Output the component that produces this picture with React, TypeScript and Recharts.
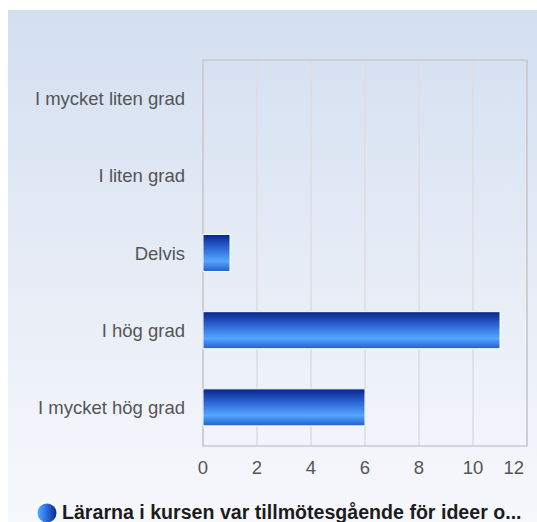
import React from "react";
import {
  BarChart,
  Bar,
  XAxis,
  YAxis,
  CartesianGrid,
  ReferenceArea,
  Legend,
} from "recharts";

const categories = [
  "I mycket liten grad",
  "I liten grad",
  "Delvis",
  "I hög grad",
  "I mycket hög grad",
];
const counts = [0, 0, 1, 11, 6];
const xTicks = [0, 2, 4, 6, 8, 10, 12];
const seriesName = "Lärarna i kursen var tillmötesgående för ideer o...";

const chartData = categories.map((c, i) => ({ category: c, value: counts[i] }));

const FONT = '"Liberation Sans", Arial, sans-serif';

function XTick(props: any) {
  const { x, y, payload } = props;
  const last = payload.value === xTicks[xTicks.length - 1];
  return (
    <text
      x={last ? x - 3 : x}
      y={y}
      dy="0.71em"
      textAnchor={last ? "end" : "middle"}
      fill="#555555"
      fontSize={18.5}
      fontFamily={FONT}
    >
      {payload.value}
    </text>
  );
}

function LegendContent() {
  return (
    <div
      style={{
        display: "flex",
        alignItems: "center",
        paddingLeft: 37,
        paddingTop: 25,
        fontFamily: FONT,
        fontWeight: "bold",
        fontSize: 19.6,
        color: "#1c1c1c",
        whiteSpace: "nowrap",
      }}
    >
      <svg width={20} height={20} style={{ marginRight: 5 }}>
        <defs>
          <linearGradient id="legendDot" x1="0" y1="0" x2="1" y2="0">
            <stop offset="0%" stopColor="#5aaaff" />
            <stop offset="45%" stopColor="#2c6fe0" />
            <stop offset="100%" stopColor="#0a2a8c" />
          </linearGradient>
        </defs>
        <circle cx={10} cy={10} r={9.5} fill="url(#legendDot)" />
      </svg>
      <span>{seriesName}</span>
    </div>
  );
}

export default function App() {
  return (
    <div
      style={{
        position: "absolute",
        left: 0,
        top: 0,
        width: 537,
        height: 522,
        background: "#fff",
      }}
    >
      <div
        style={{
          position: "absolute",
          left: 8,
          top: 10,
          right: 0,
          bottom: 0,
          background: "linear-gradient(to bottom, #d3dff0 0%, #e6ecf6 50%, #f7f8fc 100%)",
        }}
      />
      <div style={{ position: "absolute", left: 0, top: 0 }}>
        <BarChart
          width={537}
          height={522}
          data={chartData}
          layout="vertical"
          margin={{ top: 60, right: 10, bottom: 0, left: 8 }}
          barCategoryGap="26%"
        >
          <defs>
            <linearGradient id="barGrad" x1="0" y1="0" x2="0" y2="1">
              <stop offset="0%" stopColor="#08238a" />
              <stop offset="35%" stopColor="#2a62d2" />
              <stop offset="72%" stopColor="#55a6ff" />
              <stop offset="100%" stopColor="#1f5ed0" />
            </linearGradient>
          </defs>
          <CartesianGrid
            horizontal={false}
            stroke="#dcdde2"
            strokeWidth={1.5}
          />
          <ReferenceArea
            x1={0}
            x2={12}
            fill="none"
            stroke="#c7c9cf"
            strokeWidth={1.5}
            ifOverflow="visible"
          />
          <XAxis
            type="number"
            domain={[0, 12]}
            ticks={xTicks}
            height={30}
            axisLine={false}
            tickLine={false}
            tickSize={6}
            tickMargin={8.5}
            tick={<XTick />}
          />
          <YAxis
            type="category"
            dataKey="category"
            width={195}
            axisLine={false}
            tickLine={false}
            tickSize={6}
            tickMargin={12}
            tick={{ fill: "#555555", fontSize: 18.5, fontFamily: FONT }}
          />
          <Legend
            verticalAlign="bottom"
            wrapperStyle={{ left: 0, width: 537, height: 46 }}
            content={<LegendContent />}
          />
          <Bar
            dataKey="value"
            name={seriesName}
            fill="url(#barGrad)"
            stroke="#ffffff"
            strokeWidth={1}
            isAnimationActive={false}
          />
        </BarChart>
      </div>
    </div>
  );
}
